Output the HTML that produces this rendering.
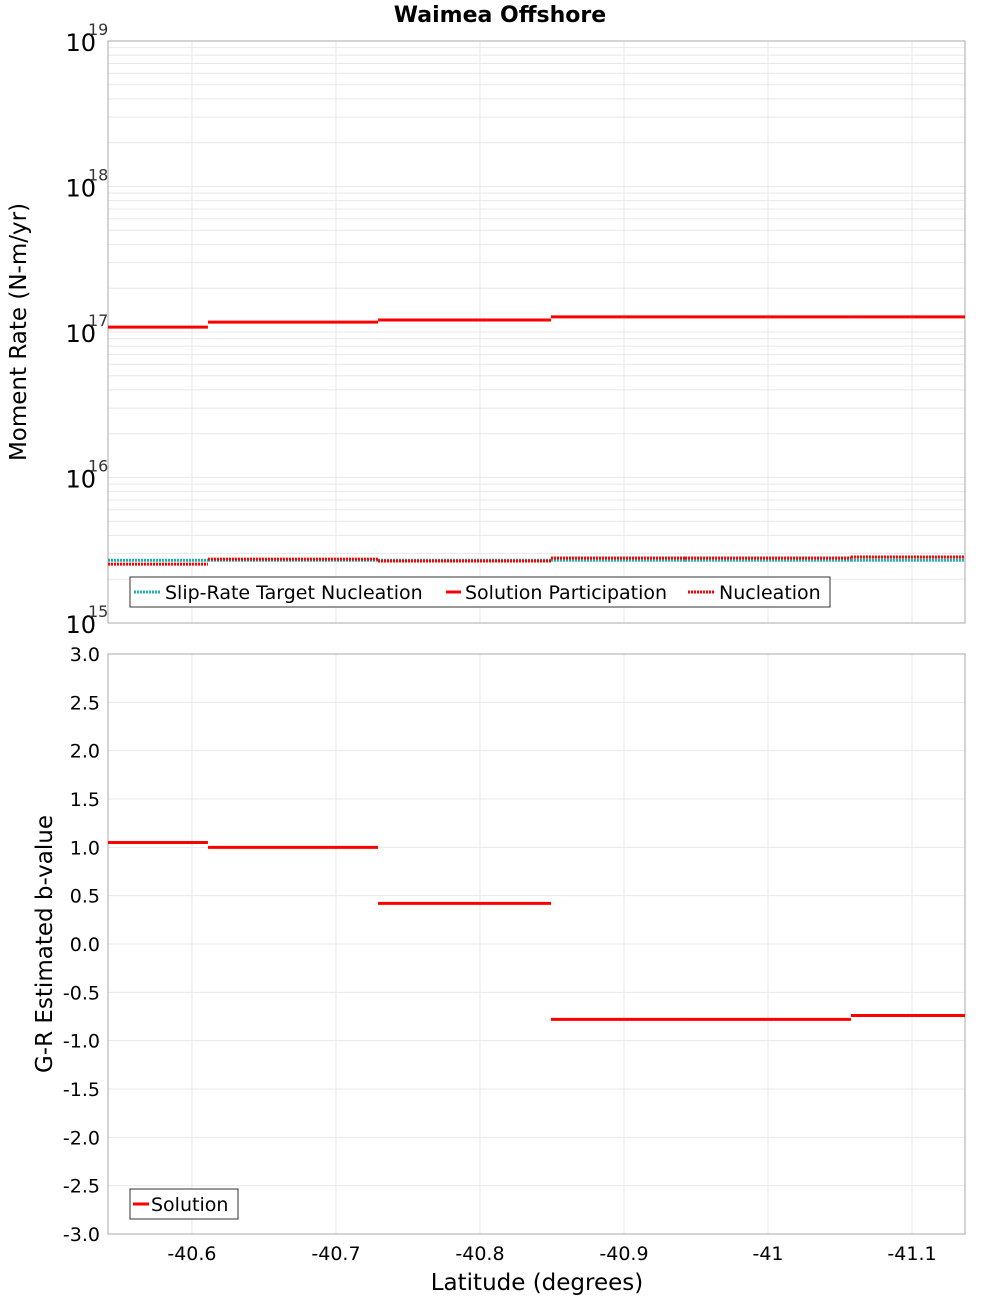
<!DOCTYPE html>
<html><head><meta charset="utf-8"><style>
body{margin:0;background:#fff;width:1000px;height:1300px;overflow:hidden}
svg text{font-family:"DejaVu Sans","Liberation Sans",sans-serif}
</style></head><body>
<svg id="c" width="1000" height="1300"></svg>
<script>
const bounds=[-40.5417,-40.6111,-40.7292,-40.8493,-40.9424,-41.0576,-41.1368];
const participation=[1.08e17,1.17e17,1.21e17,1.27e17,1.27e17,1.27e17];
const nucleation=[2.54e15,2.75e15,2.67e15,2.8e15,2.8e15,2.84e15];
const target=[2.7e15,2.7e15,2.7e15,2.7e15,2.7e15,2.7e15];
const bvalues=[1.05,1.0,0.42,-0.78,-0.78,-0.74];
const xTicks=[-40.6,-40.7,-40.8,-40.9,-41,-41.1];
const bTicks=[3,2.5,2,1.5,1,0.5,0,-0.5,-1,-1.5,-2,-2.5,-3];
const decades=[15,16,17,18,19];

const L=108,R=965,T1=41,B1=623,T2=654,B2=1234;
const NS='http://www.w3.org/2000/svg',svg=document.getElementById('c');
function x(v){return L+(v-bounds[0])/(bounds[6]-bounds[0])*(R-L);}
function yl(v){return B1-(Math.log10(v)-15)/4*(B1-T1);}
function yb(v){return B2-(v+3)/6*(B2-T2);}
function el(t,a,name,txt){const e=document.createElementNS(NS,t);for(const k in a)e.setAttribute(k,a[k]);


if(txt!==undefined)e.textContent=txt;svg.appendChild(e);return e;}
function line(x1,y1,x2,y2,s,w,name,d){const a={x1,y1,x2,y2,stroke:s,'stroke-width':w};if(d)a['stroke-dasharray']=d;return el('line',a,name);}

el('text',{x:500,y:22,'text-anchor':'middle','font-size':22,'font-weight':'bold'},'chart-title','Waimea Offshore');
// grids top
for(let d=15;d<19;d++)for(let m=1;m<10;m++){const yy=yl(m*Math.pow(10,d));line(L,yy,R,yy,'#e8e8e8',1,'grid-line-y');}
for(const t of xTicks){line(x(t),T1,x(t),B1,'#e8e8e8',1,'grid-line-x');line(x(t),T2,x(t),B2,'#e8e8e8',1,'grid-line-x');}
for(const t of bTicks)line(L,yb(t),R,yb(t),'#e8e8e8',1,'grid-line-y');
el('rect',{x:L,y:T1,width:R-L,height:B1-T1,fill:'none',stroke:'#aaa'},'top-plot-frame');
el('rect',{x:L,y:T2,width:R-L,height:B2-T2,fill:'none',stroke:'#aaa'},'bottom-plot-frame');
for(const d of decades){const g=el('text',{x:96,y:yl(Math.pow(10,d))+10,'text-anchor':'end','font-size':24},'y-tick-label','10');
el('text',{x:88,y:yl(Math.pow(10,d))-6,'font-size':16,fill:'#333'},'y-tick-exponent',String(d));}
for(const t of bTicks)el('text',{x:100,y:yb(t)+7,'text-anchor':'end','font-size':19},'b-tick-label',t.toFixed(1));
for(const t of xTicks)el('text',{x:x(t),y:1260,'text-anchor':'middle','font-size':19},'x-tick-label',String(t));
el('text',{x:537,y:1290,'text-anchor':'middle','font-size':23},'x-axis-title','Latitude (degrees)');
el('text',{x:26,y:332,'text-anchor':'middle','font-size':23,transform:'rotate(-90 26 332)'},'y-axis-title-top','Moment Rate (N-m/yr)');
el('text',{x:52,y:944,'text-anchor':'middle','font-size':23,transform:'rotate(-90 52 944)'},'y-axis-title-bottom','G-R Estimated b-value');
for(let i=0;i<6;i++){
 line(x(bounds[i]),yl(target[i]),x(bounds[i+1]),yl(target[i]),'#20b0b0',3,'target-segment','2,1');
 line(x(bounds[i]),yl(participation[i]),x(bounds[i+1]),yl(participation[i]),'#ff0000',3,'participation-segment');
 line(x(bounds[i]),yl(nucleation[i]),x(bounds[i+1]),yl(nucleation[i]),'#ff0000',3,'nucleation-segment','2,1');
 line(x(bounds[i]),yb(bvalues[i]),x(bounds[i+1]),yb(bvalues[i]),'#ff0000',3,'bvalue-segment');
}
el('rect',{x:130,y:577,width:700,height:30,fill:'#fff',stroke:'#333'},'legend-top');
line(134,592,160,592,'#20b0b0',3,'legend-swatch-target','2,1');
el('text',{x:165,y:599,'font-size':19},'legend-label-target','Slip-Rate Target Nucleation');
line(446,592,461,592,'#ff0000',3,'legend-swatch-participation');
el('text',{x:465,y:599,'font-size':19},'legend-label-participation','Solution Participation');
line(688,592,715,592,'#ff0000',3,'legend-swatch-nucleation','2,1');
el('text',{x:719,y:599,'font-size':19},'legend-label-nucleation','Nucleation');
el('rect',{x:130,y:1189,width:108,height:30,fill:'#fff',stroke:'#333'},'legend-bottom');
line(133,1204,149,1204,'#ff0000',3,'legend-swatch-solution');
el('text',{x:151,y:1211,'font-size':19},'legend-label-solution','Solution');
</script>
</body></html>
